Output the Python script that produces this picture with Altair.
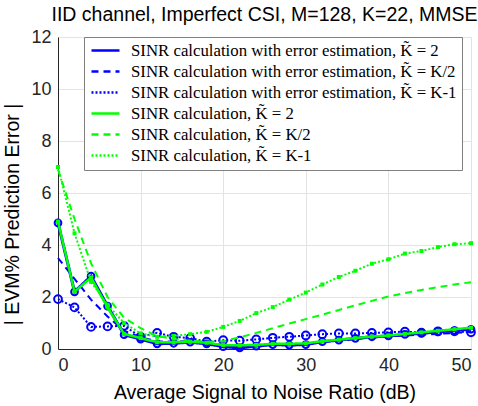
import altair as alt
import pandas as pd

snr = [0, 2, 4, 6, 8, 10, 12, 14, 16, 18, 20, 22, 24, 26, 28, 30, 32, 34, 36, 38, 40, 42, 44, 46, 48, 50]

blue_k2 = [4.85, 2.2, 2.8, 1.65, 0.55, 0.38, 0.2, 0.22, 0.26, 0.2, 0.09, 0.04, 0.11, 0.17, 0.15, 0.17,
           0.28, 0.34, 0.41, 0.47, 0.5, 0.56, 0.6, 0.66, 0.71, 0.76]
blue_kh = [3.5, 2.7, 1.9, 1.25, 0.7, 0.45, 0.3, 0.28, 0.3, 0.22, 0.15, 0.12, 0.14, 0.17, 0.17, 0.2,
           0.27, 0.32, 0.38, 0.44, 0.48, 0.52, 0.55, 0.58, 0.62, 0.66]
blue_k1 = [1.92, 1.6, 0.85, 0.87, 0.89, 0.47, 0.62, 0.47, 0.42, 0.28, 0.34, 0.32, 0.37, 0.43, 0.47, 0.52,
           0.57, 0.6, 0.6, 0.62, 0.64, 0.67, 0.63, 0.68, 0.68, 0.64]
green_k2 = [4.9, 2.2, 2.75, 1.6, 0.58, 0.42, 0.26, 0.26, 0.28, 0.24, 0.15, 0.14, 0.16, 0.2, 0.2, 0.22,
            0.3, 0.36, 0.42, 0.48, 0.52, 0.58, 0.64, 0.7, 0.76, 0.82]
green_kh = [6.9, 5.0, 3.3, 2.0, 1.2, 0.8, 0.5, 0.38, 0.32, 0.28, 0.3, 0.45, 0.62, 0.8, 0.98, 1.15,
            1.32, 1.5, 1.68, 1.85, 2.02, 2.15, 2.27, 2.38, 2.48, 2.57]
green_k1 = [7.0, 4.45, 2.58, 1.7, 1.0, 0.6, 0.47, 0.5, 0.57, 0.66, 0.85, 1.08, 1.38, 1.61, 1.9, 2.17,
            2.48, 2.77, 3.01, 3.28, 3.45, 3.67, 3.77, 3.92, 4.03, 4.07]

labels = [
    "SINR calculation with error estimation, K\u0303 = 2",
    "SINR calculation with error estimation, K\u0303 = K/2",
    "SINR calculation with error estimation, K\u0303 = K-1",
    "SINR calculation, K\u0303 = 2",
    "SINR calculation, K\u0303 = K/2",
    "SINR calculation, K\u0303 = K-1",
]
series = [blue_k2, blue_kh, blue_k1, green_k2, green_kh, green_k1]

rows = []
for lab, vals in zip(labels, series):
    for x, y in zip(snr, vals):
        rows.append({"series": lab, "snr": x, "err": y})
df = pd.DataFrame(rows)

BLUE = "#0000ff"
GREEN = "#00ff00"
colors = [BLUE, BLUE, BLUE, GREEN, GREEN, GREEN]
dashes = [[1, 0], [7, 5], [2, 2], [1, 0], [7, 5], [2, 2]]
widths = [3, 2, 2, 2.5, 2, 2]
markers = [("circle", 45, False), None, ("circle", 60, False), ("square", 16, True), None, ("square", 16, True)]

color_scale = alt.Scale(domain=labels, range=colors)
dash_scale = alt.Scale(domain=labels, range=dashes)

legend = alt.Legend(
    title=None, orient="none", legendX=26, legendY=0,
    labelFont="Liberation Serif", labelFontSize=16.8, labelColor="#000000",
    labelLimit=600, labelOffset=17,
    symbolType="M-2,0L2,0", symbolSize=196, symbolStrokeWidth=2.5, symbolOffset=8,
    strokeColor="#7f7f7f", fillColor="white", padding=5, rowPadding=3,
)

x_enc = alt.X("snr:Q", scale=alt.Scale(domain=[0, 50], nice=False),
              axis=alt.Axis(values=[0, 10, 20, 30, 40, 50], title="Average Signal to Noise Ratio (dB)",
                            titlePadding=9))
y_enc = alt.Y("err:Q", scale=alt.Scale(domain=[0, 12], nice=False),
              axis=alt.Axis(values=[0, 2, 4, 6, 8, 10, 12], title="| EVM% Prediction Error |", titleY=177,
                            titlePadding=8))

layers = []
for i, lab in enumerate(labels):
    base = alt.Chart(df).transform_filter(alt.datum.series == lab)
    line = base.mark_line(strokeWidth=widths[i]).encode(
        x=x_enc, y=y_enc,
        color=alt.Color("series:N", scale=color_scale, legend=legend),
        strokeDash=alt.StrokeDash("series:N", scale=dash_scale, legend=legend),
    )
    layers.append(line)
    if markers[i] is not None:
        shape, size, filled = markers[i]
        pts = base.mark_point(shape=shape, size=size, filled=filled, strokeWidth=2, opacity=1).encode(
            x="snr:Q", y="err:Q", color=alt.value(colors[i]))
        layers.append(pts)

chart = alt.layer(*layers).properties(
    width=413, height=312,
    autosize=alt.AutoSizeParams(type="none"),
    padding={"left": 58, "top": 37, "right": 7, "bottom": 57},
    title=alt.Title("IID channel, Imperfect CSI, M=128, K=22, MMSE", font="Liberation Sans",
                    fontSize=19.5, fontWeight="normal", color="#000000", anchor="middle", offset=3),
).configure_view(stroke=None).configure_axis(
    labelFont="Liberation Sans", labelFontSize=18, labelColor="#262626",
    titleFont="Liberation Sans", titleFontSize=19.5, titleFontWeight="normal", titleColor="#000000",
    domainColor="#262626", domainWidth=1, ticks=False, labelPadding=7,
    gridColor="#e3e3e3", gridWidth=1,
)

chart.save("out.html", embed_options={"renderer": "svg", "actions": False})
